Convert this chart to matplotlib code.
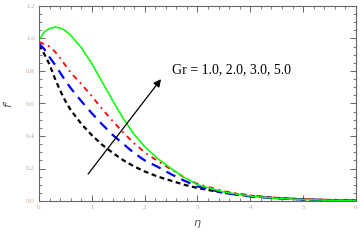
import numpy as np
import matplotlib
matplotlib.use("Agg")
import matplotlib.pyplot as plt
from matplotlib.ticker import MultipleLocator

eta = [0, 0.1, 0.2, 0.3, 0.4, 0.5, 0.6, 0.8, 1.0, 1.2, 1.4, 1.6, 1.8, 2.0,
       2.25, 2.5, 2.75, 3.0, 3.5, 4.0, 4.5, 5.0, 5.5, 6.0]

# f' profiles for Gr = 1, 2, 3, 5
f_gr1 = [0.96, 0.905, 0.84, 0.755, 0.68, 0.615, 0.56, 0.475, 0.405, 0.345, 0.295, 0.25,
         0.213, 0.182, 0.15, 0.125, 0.10, 0.08, 0.05, 0.03, 0.018, 0.01, 0.006, 0.003]
f_gr2 = [0.97, 0.935, 0.885, 0.84, 0.79, 0.74, 0.695, 0.615, 0.54, 0.47, 0.405, 0.35,
         0.295, 0.25, 0.21, 0.165, 0.125, 0.09, 0.05, 0.028, 0.016, 0.009, 0.005, 0.003]
f_gr3 = [0.98, 0.965, 0.95, 0.92, 0.88, 0.835, 0.79, 0.72, 0.645, 0.565, 0.49, 0.42,
         0.355, 0.30, 0.245, 0.195, 0.145, 0.105, 0.06, 0.035, 0.02, 0.012, 0.007, 0.004]
f_gr5 = [0.99, 1.04, 1.062, 1.07, 1.065, 1.048, 1.02, 0.945, 0.845, 0.73, 0.615, 0.505,
         0.41, 0.335, 0.26, 0.20, 0.145, 0.10, 0.055, 0.03, 0.016, 0.009, 0.005, 0.003]

label_text = "Gr = 1.0, 2.0, 3.0, 5.0"

fig = plt.figure(figsize=(3.61, 2.40), dpi=100)
ax = fig.add_axes([0.108, 0.1625, 0.878, 0.8125])

ax.plot(eta, f_gr1, color="black", lw=1.6, dashes=(2.2, 1.6))
ax.plot(eta, f_gr2, color="blue", lw=1.6, dashes=(4.5, 3))
ax.plot(eta, f_gr3, color="red", lw=1.3, dashes=(3, 2.5, 1, 2.5))
ax.plot(eta, f_gr5, color=(0, 1, 0), lw=1.1)

ax.annotate("", xy=(2.31, 0.75), xytext=(0.93, 0.166),
            arrowprops=dict(arrowstyle="-|>", color="black", lw=0.9,
                            mutation_scale=11, shrinkA=0, shrinkB=0))
ax.text(2.52, 0.81, label_text, fontsize=10, family="Liberation Serif",
        va="center", ha="left")

ax.set_xlim(0, 6)
ax.set_ylim(0, 1.2)
ax.xaxis.set_major_locator(MultipleLocator(1))
ax.xaxis.set_minor_locator(MultipleLocator(0.2))
ax.yaxis.set_major_locator(MultipleLocator(0.2))
ax.yaxis.set_minor_locator(MultipleLocator(0.05))
ax.xaxis.set_major_formatter(plt.FuncFormatter(lambda v, p: "%d" % v))
ax.yaxis.set_major_formatter(plt.FuncFormatter(lambda v, p: "%.1f" % v))

for s in ax.spines.values():
    s.set_color("#666666")
    s.set_linewidth(0.8)
ax.tick_params(which="both", direction="in", top=True, right=True,
               color="#666666", labelcolor="#c0a890", labelsize=5,
               pad=3)
ax.tick_params(which="major", length=4, width=0.7)
ax.tick_params(which="minor", length=2, width=0.6)
for lab in ax.get_xticklabels() + ax.get_yticklabels():
    lab.set_family("Liberation Serif")

ax.set_xlabel(r"$\eta$", fontsize=8, color="#555555", labelpad=6)
ax.set_ylabel(r"$f'$", fontsize=8, color="#555555", labelpad=8)

fig.savefig("out.png", dpi=100)
